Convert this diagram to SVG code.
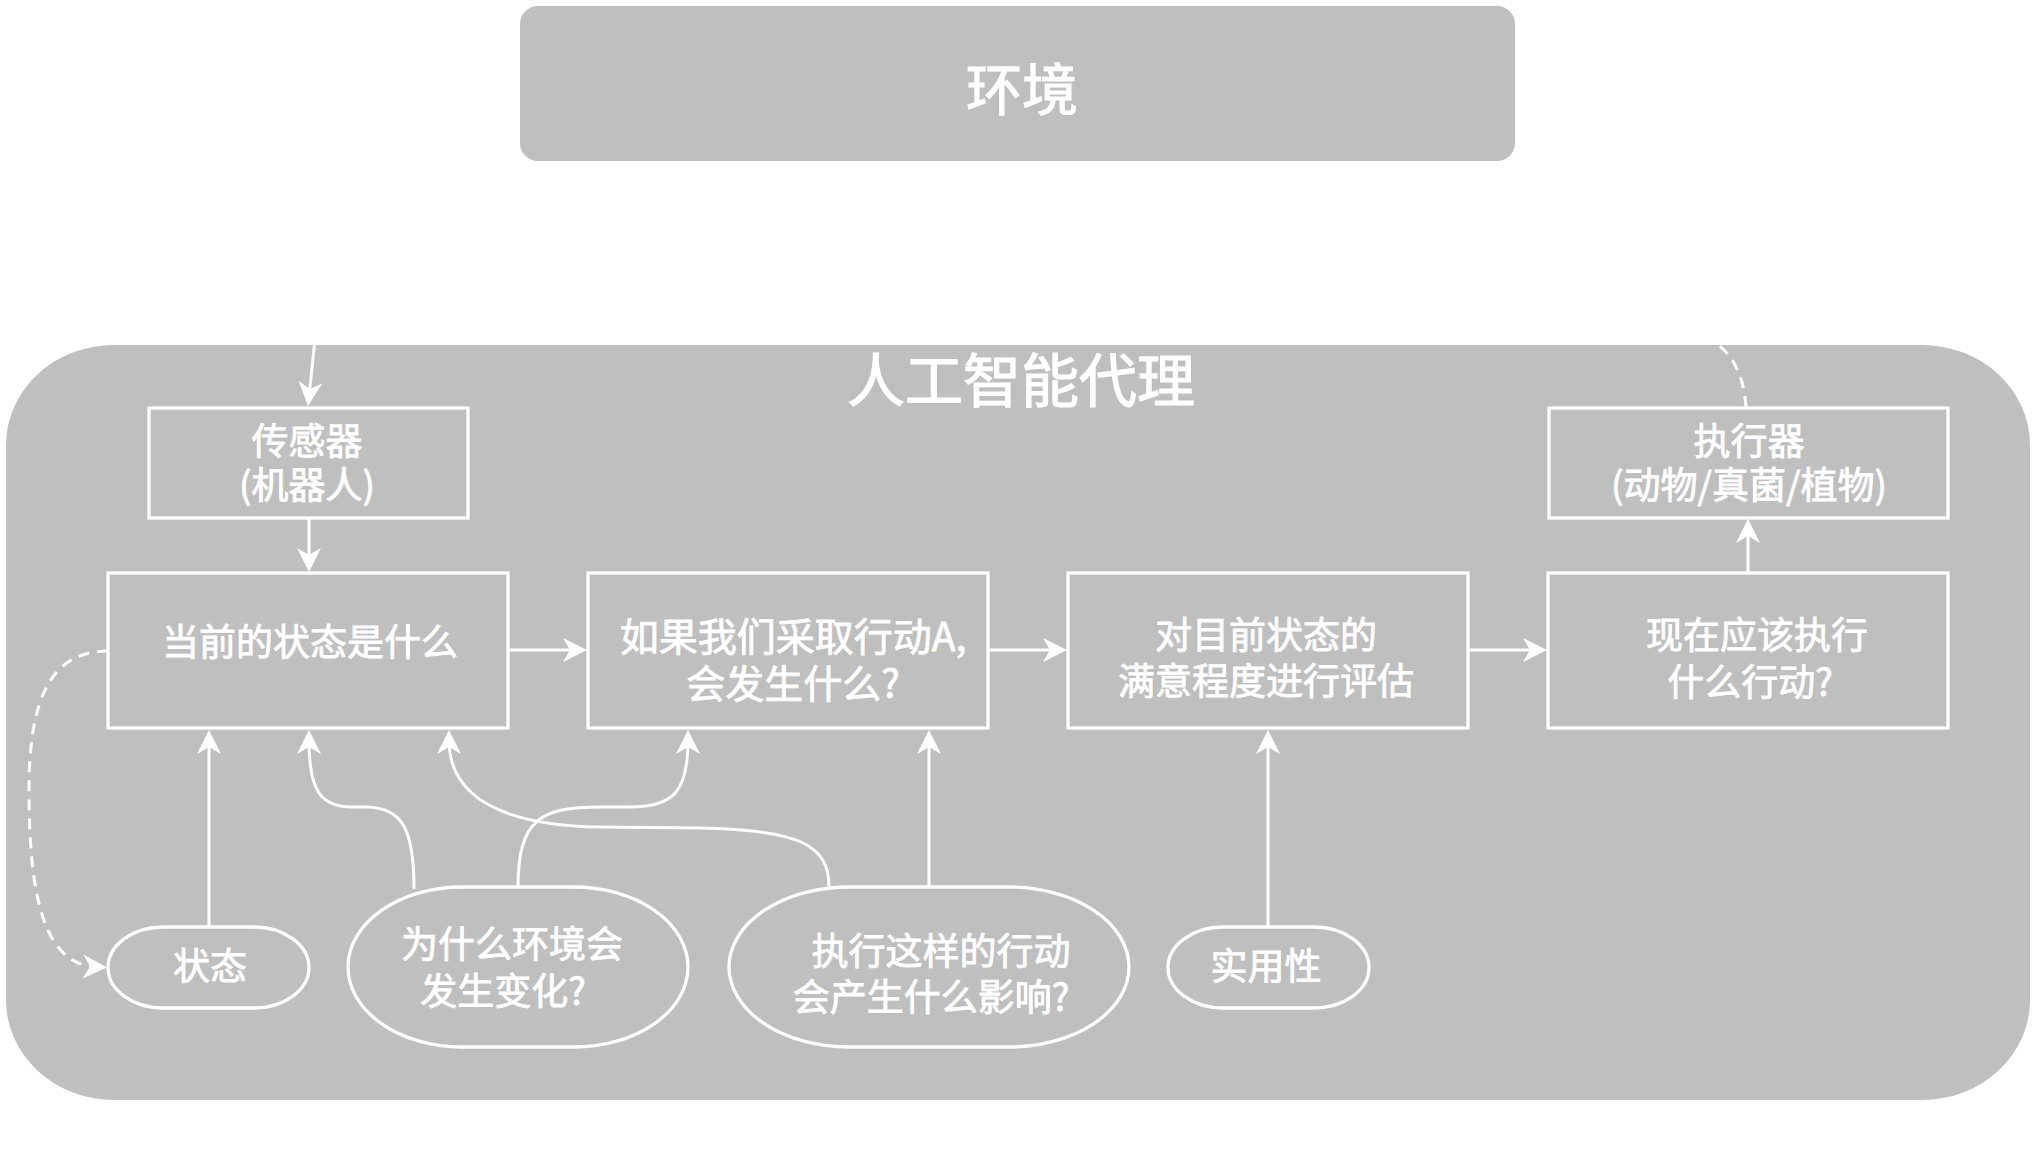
<svg xmlns="http://www.w3.org/2000/svg" width="2034" height="1167" viewBox="0 0 2034 1167">
  <style>
    .panel { fill: #bfbfbf; }
    .box { fill: none; stroke: #ffffff; stroke-width: 3.3; }
    .edge { fill: none; stroke: #ffffff; stroke-width: 3; }
    .dash { stroke-dasharray: 11 8; }
    .t { font-family: "Noto Sans CJK SC", "Noto Sans", sans-serif; fill: #ffffff; stroke: #ffffff; stroke-width: 0.8; font-size: 37px; font-weight: 400; text-anchor: middle; }
    .t39 { font-size: 39px; }
    .big { font-size: 58px; stroke-width: 1.2; }
    .env { font-size: 56px; stroke-width: 1.2; }
  </style>
  <defs>
    <marker id="arr" markerUnits="userSpaceOnUse" viewBox="-25 -13 26 26" refX="-10" refY="0" markerWidth="26" markerHeight="26" orient="auto">
      <path d="M0,0 L-24,-12 L-17,0 L-24,12 Z" fill="#ffffff"/>
    </marker>
  </defs>

  <rect width="2034" height="1167" fill="#ffffff"/>

  <g id="environment">
    <rect class="panel" x="520" y="6" width="995" height="155" rx="18" ry="18"/>
    <text class="t env" x="1022" y="110">环境</text>
  </g>

  <g id="agent">
    <rect class="panel" x="6" y="345" width="2024" height="755" rx="108" ry="100"/>
    <text class="t big" x="1021" y="402">人工智能代理</text>
  </g>

  <g id="sensor">
    <rect class="box" x="149" y="408" width="319" height="110"/>
    <text class="t" x="307" y="455">传感器</text>
    <text class="t" x="307" y="499">(机器人)</text>
  </g>

  <g id="actuator">
    <rect class="box" x="1549" y="408" width="399" height="110"/>
    <text class="t" x="1749" y="455">执行器</text>
    <text class="t" x="1749" y="499">(动物/真菌/植物)</text>
  </g>

  <g id="current-state">
    <rect class="box" x="108" y="573" width="400" height="155"/>
    <text class="t" x="310" y="656">当前的状态是什么</text>
  </g>

  <g id="what-if">
    <rect class="box" x="588" y="573" width="400" height="155"/>
    <text class="t t39" x="793" y="651">如果我们采取行动A,</text>
    <text class="t t39" x="793" y="698">会发生什么?</text>
  </g>

  <g id="evaluate">
    <rect class="box" x="1068" y="573" width="400" height="155"/>
    <text class="t" x="1266" y="649">对目前状态的</text>
    <text class="t" x="1266" y="695">满意程度进行评估</text>
  </g>

  <g id="decide">
    <rect class="box" x="1548" y="573" width="400" height="155"/>
    <text class="t" x="1757" y="649">现在应该执行</text>
    <text class="t" x="1750" y="696">什么行动?</text>
  </g>

  <g id="state">
    <rect class="box" x="108" y="927" width="201" height="81" rx="55" ry="40.5"/>
    <text class="t" x="210" y="980">状态</text>
  </g>

  <g id="why-change">
    <rect class="box" x="348" y="887" width="340" height="160" rx="114" ry="80"/>
    <text class="t" x="512" y="958">为什么环境会</text>
    <text class="t" x="503" y="1005">发生变化?</text>
  </g>

  <g id="action-effect">
    <rect class="box" x="729" y="887" width="400" height="160" rx="120" ry="80"/>
    <text class="t" x="941" y="965">执行这样的行动</text>
    <text class="t" x="931" y="1011">会产生什么影响?</text>
  </g>

  <g id="utility">
    <rect class="box" x="1168" y="927" width="201" height="81" rx="55" ry="40.5"/>
    <text class="t" x="1266" y="980">实用性</text>
  </g>

  <g id="connectors">
    <path class="edge" marker-end="url(#arr)" d="M1025,165 C1025,280 880,298 650,302 C450,306 330,312 316,330 L309,396"/>
    <path class="edge dash" marker-end="url(#arr)" d="M1746,407 C1740,330 1690,312 1500,306 L1300,300 C1130,295 1040,260 1026,172"/>
    <path class="edge" marker-end="url(#arr)" d="M309,518 L309,562"/>
    <path class="edge" marker-end="url(#arr)" d="M508,650 L577,650"/>
    <path class="edge" marker-end="url(#arr)" d="M988,650 L1057,650"/>
    <path class="edge" marker-end="url(#arr)" d="M1468,650 L1537,650"/>
    <path class="edge" marker-end="url(#arr)" d="M1748,572 L1748,529"/>
    <path class="edge dash" marker-end="url(#arr)" d="M108,651 C50,651 29,700 29,790 C29,900 45,965 97,967"/>
    <path class="edge" marker-end="url(#arr)" d="M209,927 L209,740"/>
    <path class="edge" marker-end="url(#arr)" d="M414,889 C414,830 403,807 365,807 L352,807 C320,807 309,790 309,740"/>
    <path class="edge" marker-end="url(#arr)" d="M518,887 C518,820 540,807 600,807 L630,807 C675,807 688,790 688,740"/>
    <path class="edge" marker-end="url(#arr)" d="M829,887 C829,845 800,830 700,828 L600,827 C490,825 449,790 449,740"/>
    <path class="edge" marker-end="url(#arr)" d="M929,887 L929,740"/>
    <path class="edge" marker-end="url(#arr)" d="M1268,927 L1268,740"/>
  </g>
</svg>
